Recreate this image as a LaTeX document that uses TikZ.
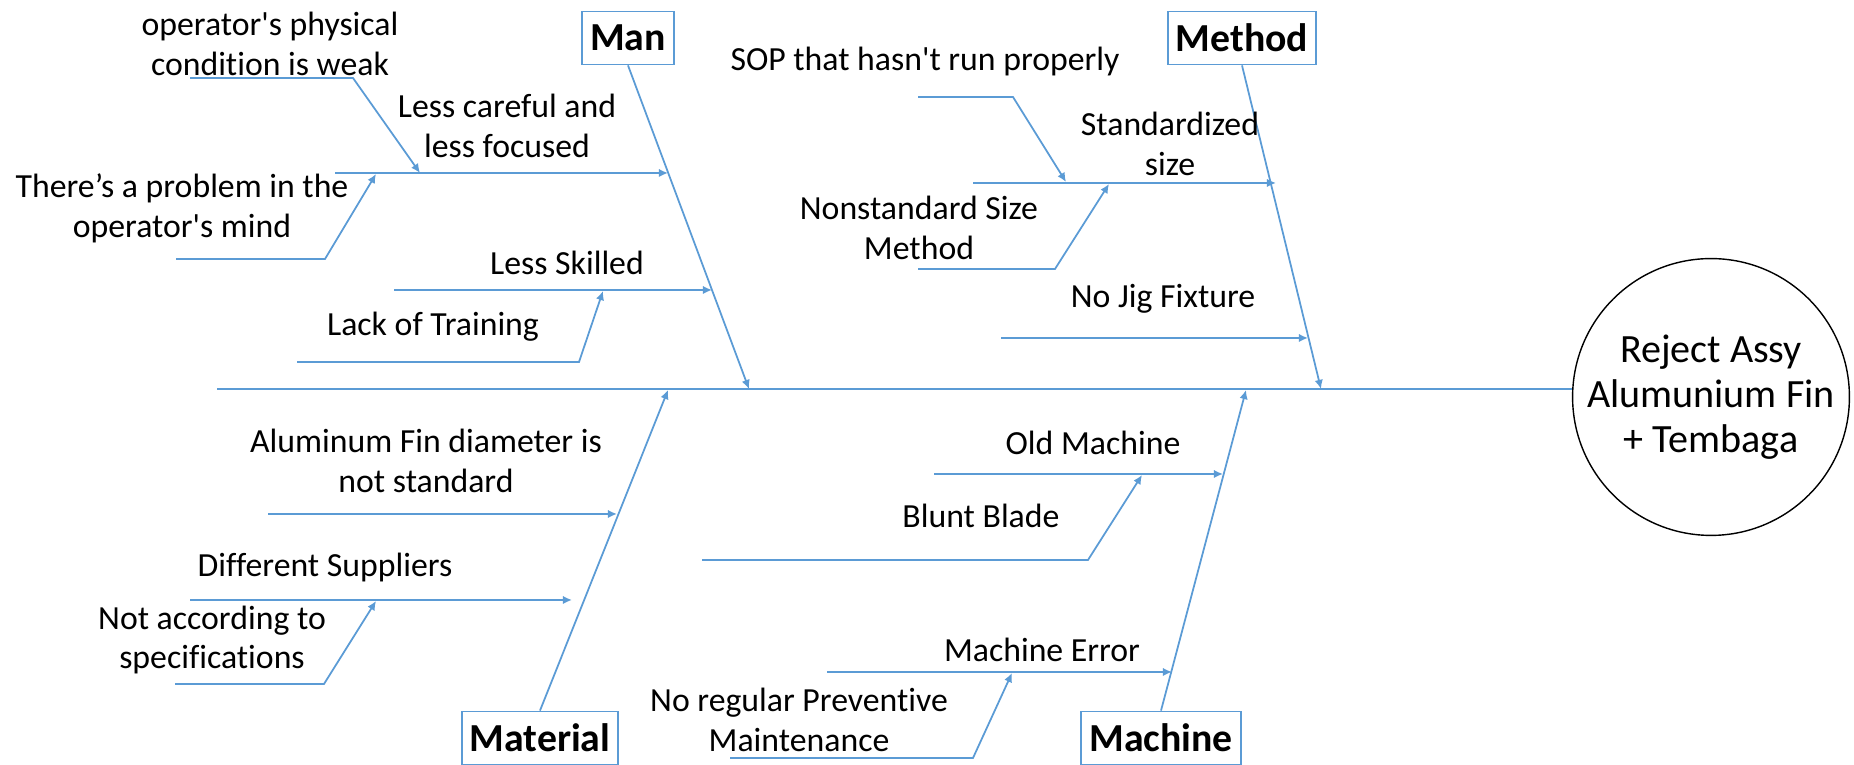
\documentclass[tikz,border=0pt]{standalone}
\usepackage{fontspec}
\setmainfont{Carlito}[Ligatures=NoCommon]
\usetikzlibrary{arrows.meta}

\definecolor{fishblue}{HTML}{5B9BD5}

\begin{document}
\begin{tikzpicture}[x=0.01cm,y=-0.01cm]

\tikzset{cause/.style = {align=center,inner sep=0pt,font=\fontsize{9.6}{11.3}\selectfont}}
\tikzset{catbox/.style = {draw=fishblue,line width=0.5pt,inner xsep=0.08cm,minimum height=0.53cm,font=\fontsize{11.3}{13}\selectfont\bfseries}}
\tikzset{effect/.style = {shape=circle,draw,line width=0.4pt,minimum size=2.7cm,inner sep=0pt,align=center,font=\fontsize{11.4}{12.8}\selectfont}}
\tikzset{bone/.style = {draw=fishblue,line width=0.5pt}}
\tikzset{edge/.style = {bone,->,> = {Latex[length=2.6pt,width=2.4pt]}}}

\useasboundingbox (0,0) rectangle (1854,765);

% head and spine
\node[effect] (effect) at (1711,397) {Reject Assy\\Alumunium Fin\\+ Tembaga};
\coordinate (tail) at (217,389);
\draw[bone] (tail) -- (tail -| effect.west);

% category boxes
\node[catbox] (man) at (628,38) {Man};
\node[catbox] (method) at (1242,38) {Method};
\node[catbox] (material) at (540,738) {Material};
\node[catbox] (machine) at (1161,738) {Machine};

\coordinate (manTip) at (749,389);
\coordinate (methodTip) at (1321,389);
\coordinate (materialTip) at (668,390);
\coordinate (machineTip) at (1246,390);

\draw[edge] (man.south) -- (manTip);
\draw[edge] (method.south) -- (methodTip);
\draw[edge] (material.north) -- (materialTip);
\draw[edge] (machine.north) -- (machineTip);

% Man
\node[cause] (careful) at (507,126) {Less careful and\\less focused};
\coordinate (carefulA) at (335,173);
\coordinate (carefulB) at (668,173);
\draw[edge] (carefulA) -- (carefulB);

\node[cause] (weak) at (270,44) {operator\textquotesingle s physical\\condition is weak};
\coordinate (weakA) at (190,78);
\coordinate (weakB) at (353,78);
\coordinate (weakC) at (420,173);
\draw[edge] (weakA) -- (weakB) -- (weakC);

\node[cause] (mind) at (182,208) {There’s a problem in the\\operator\textquotesingle s mind};
\coordinate (mindA) at (176,259);
\coordinate (mindB) at (325,259);
\coordinate (mindC) at (376,174);
\draw[edge] (mindA) -- (mindB) -- (mindC);

\node[cause] (skill) at (567,263) {Less Skilled};
\coordinate (skillA) at (394,290);
\coordinate (skillB) at (712,290);
\draw[edge] (skillA) -- (skillB);

\node[cause] (training) at (433,327) {Lack of Training};
\coordinate (trainingA) at (297,362);
\coordinate (trainingB) at (579,362);
\coordinate (trainingC) at (603,291);
\draw[edge] (trainingA) -- (trainingB) -- (trainingC);

% Method
\node[cause] (stdsize) at (1170,144) {Standardized\\size};
\coordinate (stdsizeA) at (973,183);
\coordinate (stdsizeB) at (1276,183);
\draw[edge] (stdsizeA) -- (stdsizeB);

\node[cause] (sop) at (925,62) {SOP that hasn\textquotesingle t run properly};
\coordinate (sopA) at (918,97);
\coordinate (sopB) at (1013,97);
\coordinate (sopC) at (1066,182);
\draw[edge] (sopA) -- (sopB) -- (sopC);

\node[cause] (nonstd) at (919,228) {Nonstandard Size\\Method};
\coordinate (nonstdA) at (918,269);
\coordinate (nonstdB) at (1055,269);
\coordinate (nonstdC) at (1109,184);
\draw[edge] (nonstdA) -- (nonstdB) -- (nonstdC);

\node[cause] (jig) at (1163,299) {No Jig Fixture};
\coordinate (jigA) at (1001,338);
\coordinate (jigB) at (1308,338);
\draw[edge] (jigA) -- (jigB);

% Material
\node[cause] (diameter) at (426,461) {Aluminum Fin diameter is\\not standard};
\coordinate (diameterA) at (268,514);
\coordinate (diameterB) at (617,514);
\draw[edge] (diameterA) -- (diameterB);

\node[cause] (supplier) at (325,568) {Different Suppliers};
\coordinate (supplierA) at (190,600);
\coordinate (supplierB) at (572,600);
\draw[edge] (supplierA) -- (supplierB);

\node[cause] (spec) at (212,640) {Not according to\\specifications};
\coordinate (specA) at (175,684);
\coordinate (specB) at (324,684);
\coordinate (specC) at (376,601);
\draw[edge] (specA) -- (specB) -- (specC);

% Machine
\node[cause] (old) at (1093,443) {Old Machine};
\coordinate (oldA) at (934,474);
\coordinate (oldB) at (1223,474);
\draw[edge] (oldA) -- (oldB);

\node[cause] (blade) at (981,516) {Blunt Blade};
\coordinate (bladeA) at (702,560);
\coordinate (bladeB) at (1088,560);
\coordinate (bladeC) at (1142,475);
\draw[edge] (bladeA) -- (bladeB) -- (bladeC);

\node[cause] (error) at (1042,650) {Machine Error};
\coordinate (errorA) at (827,672);
\coordinate (errorB) at (1172,672);
\draw[edge] (errorA) -- (errorB);

\node[cause] (pm) at (799,720) {No regular Preventive\\Maintenance};
\coordinate (pmA) at (730,758);
\coordinate (pmB) at (973,758);
\coordinate (pmC) at (1012,673);
\draw[edge] (pmA) -- (pmB) -- (pmC);

\end{tikzpicture}
\end{document}
